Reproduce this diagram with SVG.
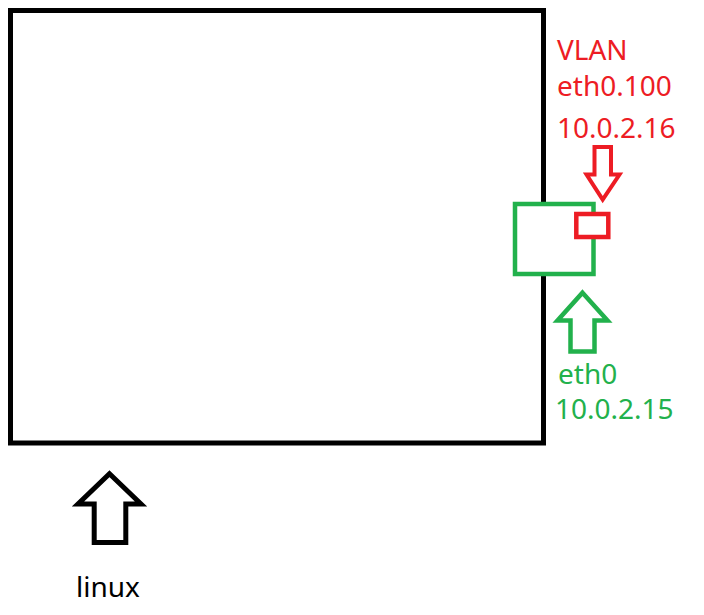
<svg xmlns="http://www.w3.org/2000/svg" width="704" height="615" viewBox="0 0 704 615">
<style>
.blk{fill:none;stroke:#000;stroke-width:5}
.red{fill:#fff;stroke:#ED1C24;stroke-width:4.5}
.grn{fill:#fff;stroke:#22B14C;stroke-width:4.5}
.arr{fill:none;stroke-linejoin:miter;stroke-miterlimit:10}
text{font-family:"Noto Sans","Open Sans","Liberation Sans",sans-serif;font-size:28px}
.tr{fill:#ED1C24}
.tg{fill:#22B14C}
.tb{fill:#000}
</style>
<rect width="704" height="615" fill="#fff"/>
<g id="linux">
<rect class="blk" x="10.5" y="10.5" width="533" height="432.5"/>
<text class="tb" x="76" y="597">linux</text>
</g>
<g id="eth0">
<rect class="grn" x="515" y="204" width="78.5" height="70"/>
<text class="tg" x="558" y="384">eth0</text>
<text class="tg" x="555" y="419">10.0.2.15</text>
</g>
<g id="vlan">
<rect class="red" x="576.3" y="214" width="32" height="23"/>
<text class="tr" x="557" y="60">VLAN</text>
<text class="tr" x="557" y="96">eth0.100</text>
<text class="tr" x="557" y="138">10.0.2.16</text>
</g>
<g id="connectors">
<polygon class="arr" stroke="#ED1C24" stroke-width="4" points="594.5,147 611,147 611,174.5 619.5,174.5 602.7,199.5 586.5,174.5 594.5,174.5"/>
<polygon class="arr" stroke="#22B14C" stroke-width="4.5" points="582.5,292.7 607.5,320.5 594.5,320.5 594.5,351.5 570.5,351.5 570.5,320.5 557.5,320.5"/>
<polygon class="arr" stroke="#000" stroke-width="5" points="109.5,473.7 141,504 125.8,504 125.8,542.5 94.2,542.5 94.2,504 78,504"/>
</g>
</svg>
